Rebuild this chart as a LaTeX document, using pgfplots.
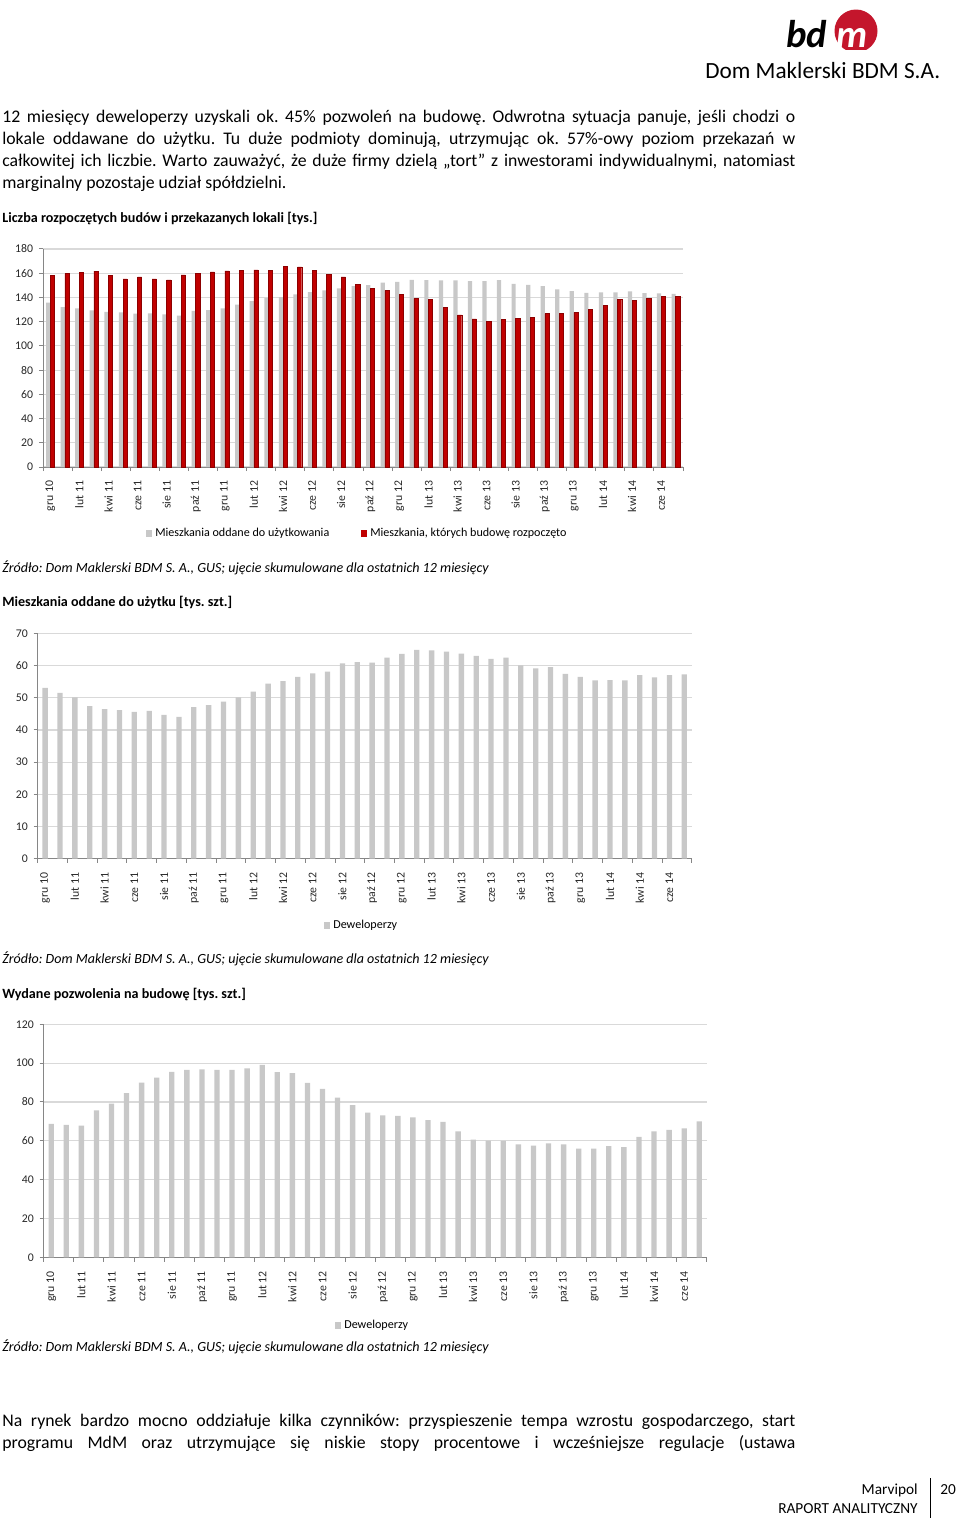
\documentclass[border=0pt]{standalone}
\usepackage{fontspec}
\setmainfont{Carlito}
\usepackage{pgfplots}
\usepackage{pgfplotstable}
\pgfplotsset{compat=1.18}
\frenchspacing

\definecolor{barGrey}{RGB}{200,200,200}
\definecolor{barRed}{RGB}{192,0,0}
\definecolor{barRedEdge}{RGB}{140,0,0}
\definecolor{gridGrey}{RGB}{217,217,217}
\definecolor{axisGrey}{RGB}{134,134,134}
\definecolor{logoRed}{RGB}{196,22,44}
\definecolor{tickText}{RGB}{40,40,40}

% Chart 1: mieszkania oddane (grey) i rozpoczete (red), tys.
\pgfplotstableread{
v
135.6
132.0
131.0
129.3
128.0
127.7
126.6
126.8
126.0
125.0
128.8
129.6
131.0
134.0
137.0
139.7
140.3
142.5
144.4
145.8
147.4
149.3
150.1
152.3
152.9
154.5
154.2
154.0
154.0
153.4
153.4
154.2
151.2
150.4
149.3
146.6
145.2
143.8
144.1
144.1
144.9
143.6
143.3
143.0
}\tabOddane
\pgfplotstableread{
v
158.1
159.7
160.8
161.6
158.0
155.3
157.0
155.3
154.5
158.6
159.7
161.1
161.9
162.5
162.7
162.5
165.8
165.2
162.5
159.2
157.0
150.7
147.7
145.8
142.2
139.2
138.1
132.0
125.5
122.2
120.3
121.9
123.0
123.3
126.6
126.8
127.7
130.1
133.7
138.1
137.3
138.9
140.8
141.1
}\tabRozpoczete
% Chart 2: deweloperzy - oddane
\pgfplotstableread{
v
53.1
51.5
50.1
47.4
46.5
46.2
45.6
45.9
44.7
44.1
47.1
47.7
48.8
50.1
51.9
54.4
55.2
56.5
57.6
58.1
60.7
61.1
60.9
62.5
63.6
64.9
64.7
64.3
63.7
63.0
62.1
62.5
60.1
59.1
59.5
57.4
56.5
55.4
55.5
55.4
57.0
56.3
57.0
57.3
}\tabDewOddane
% Chart 3: deweloperzy - pozwolenia
\pgfplotstableread{
v
68.7
68.2
67.8
75.7
79.1
84.6
90.0
92.5
95.5
96.5
96.8
96.5
96.5
97.3
99.1
95.3
94.9
89.8
86.7
82.2
78.3
74.5
73.1
72.8
72.1
70.6
69.7
64.9
60.6
60.1
59.9
58.2
57.5
58.7
58.2
56.0
56.0
57.2
56.7
62.0
64.9
65.6
66.4
70.0
}\tabDewPozw

\pgfplotsset{
  bdm/.style={
    scale only axis,
    axis x line*=bottom,
    axis y line*=left,
    axis line style={draw=axisGrey, line width=0.6pt},
    every tick/.style={draw=axisGrey, line width=0.6pt},
    tick align=outside,
    major tick length=2.6pt,
    minor tick length=2.6pt,
    xmin=-0.5, xmax=43.5, ymin=0,
    ymajorgrids,
    major grid style={draw=gridGrey, line width=0.7pt},
    xtick={0,2,...,42},
    xticklabels={gru 10,lut 11,kwi 11,cze 11,sie 11,paź 11,gru 11,lut 12,kwi 12,cze 12,sie 12,paź 12,gru 12,lut 13,kwi 13,cze 13,sie 13,paź 13,gru 13,lut 14,kwi 14,cze 14},
    minor xtick={-0.5,1.5,...,43.5},
    major x tick style=transparent,
    tick label style={font=\fontsize{7.3}{8.5}\selectfont, text=tickText},
    x tick label style={rotate=90, anchor=east},
    xticklabel shift=2.5pt,
    /pgf/number format/assume math mode=true,
    clip=false,
  }
}

\begin{document}
\begin{tikzpicture}[x=0.62pt, y=0.62pt]
\useasboundingbox (0,0) rectangle (960,-1518);
\fill[white] (0,0) rectangle (960,-1518);
\coordinate (A1) at (43,-467);
\coordinate (A2) at (37.7,-858.7);
\coordinate (A3) at (43.7,-1257.3);

% ---------- logo ----------
\begin{scope}
  \clip (820,-6) rectangle (890,-49);
  \fill[logoRed] (856,-31) circle (21.5);
\end{scope}
\node[anchor=base west, inner sep=0pt] at (786,-47) {\fontsize{24}{24}\selectfont\bfseries\itshape bd};
\node[anchor=base west, inner sep=0pt, text=white] at (836,-47) {\fontsize{24}{24}\selectfont\bfseries\itshape m};
\node[anchor=base west, inner sep=0pt] at (705,-78) {\fontsize{14.4}{16}\selectfont Dom Maklerski BDM S.A.};

% ---------- paragraph 1 ----------
\node[anchor=base west, inner sep=0pt] at (2,-122) {\parbox[t]{491.7pt}{\fontsize{11}{13.64}\selectfont\frenchspacing\hyphenpenalty=10000\emergencystretch=3em
12 miesięcy deweloperzy uzyskali ok. 45\% pozwoleń na budowę. Odwrotna sytuacja panuje, jeśli chodzi o\linebreak
lokale oddawane do użytku. Tu duże podmioty dominują, utrzymując ok. 57\%-owy poziom przekazań w\linebreak
całkowitej ich liczbie. Warto zauważyć, że duże firmy dzielą „tort” z inwestorami indywidualnymi, natomiast\linebreak
marginalny pozostaje udział spółdzielni.}};

% ---------- chart 1 ----------
\node[anchor=base west, inner sep=0pt] at (2,-222) {\fontsize{8.75}{10}\selectfont\bfseries Liczba rozpoczętych budów i przekazanych lokali [tys.]};
\begin{axis}[bdm, at={(A1)}, anchor=south west,
  width=396.8pt, height=135.2pt,
  ymax=180, ytick={0,20,...,180},
  ybar=0pt, bar width=2.6pt]
  \addplot[fill=barGrey, draw=none] table[x expr=\coordindex, y=v]{\tabOddane};
  \addplot[fill=barRed, draw=barRedEdge, line width=0.3pt] table[x expr=\coordindex, y=v]{\tabRozpoczete};
\end{axis}
\fill[barGrey] (146,-530) rectangle (152,-537);
\node[anchor=west, inner sep=0pt] at (155,-533.5) {\fontsize{7.5}{8.5}\selectfont Mieszkania oddane do użytkowania};
\fill[barRed] (361,-530) rectangle (367,-537);
\node[anchor=west, inner sep=0pt] at (370,-533.5) {\fontsize{7.5}{8.5}\selectfont Mieszkania, których budowę rozpoczęto};
\node[anchor=base west, inner sep=0pt] at (2,-572) {\fontsize{8.7}{10}\selectfont\itshape Źródło: Dom Maklerski BDM S. A., GUS; ujęcie skumulowane dla ostatnich 12 miesięcy};

% ---------- chart 2 ----------
\node[anchor=base west, inner sep=0pt] at (2,-606) {\fontsize{8.75}{10}\selectfont\bfseries Mieszkania oddane do użytku [tys. szt.]};
\begin{axis}[bdm, at={(A2)}, anchor=south west,
  width=405.5pt, height=139.7pt,
  ymax=70, ytick={0,10,...,70},
  ybar, bar width=3.3pt]
  \addplot[fill=barGrey, draw=none] table[x expr=\coordindex, y=v]{\tabDewOddane};
\end{axis}
\fill[barGrey] (324,-922) rectangle (330,-929);
\node[anchor=west, inner sep=0pt] at (333,-925.5) {\fontsize{7.5}{8.5}\selectfont Deweloperzy};
\node[anchor=base west, inner sep=0pt] at (2,-963) {\fontsize{8.7}{10}\selectfont\itshape Źródło: Dom Maklerski BDM S. A., GUS; ujęcie skumulowane dla ostatnich 12 miesięcy};

% ---------- chart 3 ----------
\node[anchor=base west, inner sep=0pt] at (2,-998) {\fontsize{8.75}{10}\selectfont\bfseries Wydane pozwolenia na budowę [tys. szt.]};
\begin{axis}[bdm, at={(A3)}, anchor=south west,
  width=411.1pt, height=144.5pt,
  ymax=120, ytick={0,20,...,120},
  ybar, bar width=3.3pt]
  \addplot[fill=barGrey, draw=none] table[x expr=\coordindex, y=v]{\tabDewPozw};
\end{axis}
\fill[barGrey] (335,-1322) rectangle (341,-1329);
\node[anchor=west, inner sep=0pt] at (344,-1325.5) {\fontsize{7.5}{8.5}\selectfont Deweloperzy};
\node[anchor=base west, inner sep=0pt] at (2,-1351) {\fontsize{8.7}{10}\selectfont\itshape Źródło: Dom Maklerski BDM S. A., GUS; ujęcie skumulowane dla ostatnich 12 miesięcy};

% ---------- paragraph 2 ----------
\node[anchor=base west, inner sep=0pt] at (2,-1426) {\parbox[t]{491.7pt}{\fontsize{11}{13.64}\selectfont\frenchspacing\hyphenpenalty=10000\parfillskip=0pt
Na rynek bardzo mocno oddziałuje kilka czynników: przyspieszenie tempa wzrostu gospodarczego, start\linebreak
programu MdM oraz utrzymujące się niskie stopy procentowe i wcześniejsze regulacje (ustawa}};

% ---------- footer ----------
\node[anchor=base east, inner sep=0pt] at (918,-1494) {\fontsize{9.5}{11}\selectfont Marvipol};
\node[anchor=base east, inner sep=0pt] at (918,-1513) {\fontsize{9.5}{11}\selectfont RAPORT ANALITYCZNY};
\draw[black, line width=0.6pt] (930,-1478) -- (930,-1518);
\node[anchor=base west, inner sep=0pt] at (940,-1494) {\fontsize{9.5}{11}\selectfont 20};
\end{tikzpicture}
\end{document}
